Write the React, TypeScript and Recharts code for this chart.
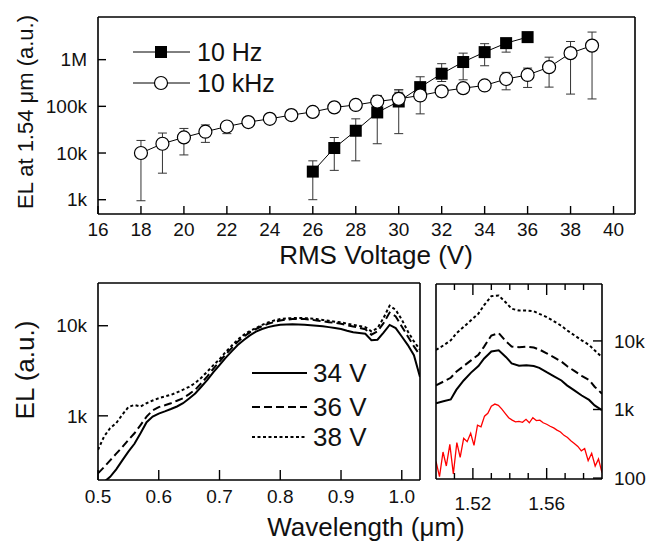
import React from "react";
import { LineChart, Line, XAxis, YAxis, ErrorBar, Legend, Label } from "recharts";

const FONT = '"Liberation Sans", Arial, Helvetica, sans-serif';
const INK = "#111";

// top panel: EL at 1.54 um vs RMS voltage
const hzVolts = [26, 27, 28, 29, 30, 31, 32, 33, 34, 35, 36];
const hzEL = [4000, 12800, 30000, 74000, 127000, 258000, 500000, 890000, 1450000, 2260000, 3040000];
const hzLow = [1000, 4250, 6800, 15800, 26000, 200000, 340000, 370000, 740000, 1450000, 2900000];
const hzHigh = [6800, 21500, 54000, 138000, 200000, 430000, 820000, 1380000, 2200000, 2770000, 3200000];

const khzVolts = [18, 19, 20, 21, 22, 23, 24, 25, 26, 27, 28, 29, 30, 31, 32, 33, 34, 35, 36, 37, 38, 39];
const khzEL = [10000, 15800, 21600, 28600, 37000, 46000, 54000, 65000, 76000, 95000, 107000, 127000, 145000, 171000, 210000, 245000, 280000, 385000, 470000, 690000, 1380000, 2000000];
const khzLow = [950, 3700, 9100, 16900, 26000, 36500, 44500, 53000, 62000, 80000, 90000, 97000, 118000, 69000, 160000, 195000, 230000, 226000, 254000, 258000, 183000, 144000];
const khzHigh = [18600, 26800, 33600, 40000, 44500, 57800, 66000, 79000, 92000, 112000, 127000, 171000, 226000, 250000, 258000, 300000, 330000, 535000, 660000, 1130000, 2450000, 3900000];

const voltTicks = [16, 18, 20, 22, 24, 26, 28, 30, 32, 34, 36, 38, 40];
const elTicks = [1000, 10000, 100000, 1000000];
const elTickText = ["1k", "10k", "100k", "1M"];

// bottom left: visible / near-IR spectra
const visWl = [0.5, 0.51, 0.52, 0.53, 0.54, 0.55, 0.56, 0.57, 0.58, 0.59, 0.6, 0.61, 0.62, 0.63, 0.64, 0.65, 0.66, 0.67, 0.68, 0.69, 0.7, 0.71, 0.72, 0.73, 0.74, 0.75, 0.76, 0.77, 0.78, 0.79, 0.8, 0.81, 0.82, 0.83, 0.84, 0.85, 0.86, 0.87, 0.88, 0.89, 0.9, 0.91, 0.92, 0.93, 0.94, 0.95, 0.96, 0.97, 0.98, 0.99, 1.0, 1.01, 1.02, 1.03];
const vis34 = [170, 185, 210, 255, 320, 400, 490, 640, 850, 980, 1060, 1120, 1190, 1270, 1380, 1560, 1770, 2100, 2500, 3050, 3650, 4400, 5200, 6100, 6950, 7800, 8600, 9200, 9650, 10000, 10250, 10350, 10400, 10350, 10250, 10150, 10000, 9850, 9650, 9450, 9200, 8800, 8450, 8300, 8150, 6900, 7000, 8400, 10200, 9400, 7600, 6100, 4700, 2700];
const vis36 = [230, 270, 320, 380, 450, 540, 640, 790, 980, 1150, 1250, 1310, 1380, 1470, 1570, 1740, 1950, 2300, 2740, 3350, 4000, 4800, 5650, 6650, 7600, 8450, 9200, 9900, 10500, 11000, 11450, 11700, 11850, 11900, 11850, 11700, 11450, 11200, 10950, 10750, 10500, 10150, 9800, 9500, 9150, 7950, 8650, 10700, 14000, 12700, 9800, 7600, 5900, 4700];
const vis38 = [420, 590, 730, 830, 1030, 1250, 1320, 1270, 1380, 1480, 1570, 1640, 1710, 1820, 1950, 2100, 2310, 2650, 3100, 3650, 4250, 5100, 6000, 7000, 7950, 8750, 9400, 10200, 10900, 11450, 11850, 12050, 12150, 12200, 12150, 12000, 11850, 11600, 11350, 11100, 10900, 10550, 10250, 9950, 9650, 8650, 9400, 12200, 16700, 15000, 11700, 8650, 6700, 5400];
const visTicks = [0.5, 0.6, 0.7, 0.8, 0.9, 1.0];
const visElTicks = [1000, 10000];

// bottom right: Er 1.54 um band
const irWl = [1.5, 1.504, 1.508, 1.511, 1.515, 1.519, 1.523, 1.526, 1.53, 1.534, 1.538, 1.541, 1.545, 1.549, 1.553, 1.556, 1.56, 1.564, 1.568, 1.571, 1.575, 1.579, 1.583, 1.586, 1.59];
const ir38 = [7400, 8600, 10200, 12900, 16000, 20000, 25000, 33000, 45000, 46000, 36000, 29500, 27700, 27700, 27000, 24800, 22300, 19300, 16600, 14300, 12100, 10200, 8750, 7300, 5800];
const ir36 = [2250, 2550, 2900, 3550, 4300, 5200, 6300, 8200, 12000, 13000, 9800, 8300, 8100, 8250, 8000, 7500, 6600, 5750, 5000, 4300, 3650, 3100, 2700, 2150, 1700];
const ir34 = [1230, 1320, 1400, 1930, 2650, 3450, 4300, 5500, 7000, 7300, 5800, 4700, 4350, 4400, 4300, 4050, 3500, 3050, 2650, 2250, 1900, 1600, 1380, 1150, 980];

const redWl = [1.5, 1.5019, 1.5038, 1.5056, 1.5075, 1.5094, 1.5113, 1.5131, 1.515, 1.5169, 1.5188, 1.5206, 1.5225, 1.5244, 1.5263, 1.5281, 1.53, 1.5319, 1.5338, 1.5356, 1.5375, 1.5394, 1.5413, 1.5431, 1.545, 1.5469, 1.5488, 1.5506, 1.5525, 1.5544, 1.5563, 1.5581, 1.56, 1.5619, 1.5638, 1.5656, 1.5675, 1.5694, 1.5713, 1.5731, 1.575, 1.5769, 1.5788, 1.5806, 1.5825, 1.5844, 1.5863, 1.5881, 1.59];
const redEL = [175, 105, 240, 150, 310, 115, 330, 200, 380, 340, 450, 300, 590, 560, 800, 880, 1120, 1200, 1150, 1020, 880, 760, 700, 660, 670, 650, 720, 640, 760, 690, 700, 640, 610, 570, 540, 500, 470, 420, 390, 350, 320, 290, 250, 270, 180, 230, 150, 190, 120];

const irMajor = [1.52, 1.56];
const irTicks = [1.51, 1.52, 1.53, 1.54, 1.55, 1.56, 1.57, 1.58];
const irElTicks = [100, 1000, 10000];

const toRows = (xs: number[], ys: number[], lo: number[], hi: number[]) =>
  xs.map((v, i) => ({ v, el: ys[i], err: [ys[i] - lo[i], hi[i] - ys[i]] }));
const hzRows = toRows(hzVolts, hzEL, hzLow, hzHigh);
const khzRows = toRows(khzVolts, khzEL, khzLow, khzHigh);
// short bars that show through the open circles
const khzInner = khzRows.filter((r) => r.v >= 23 && r.v <= 30);
const visRows = visWl.map((w, i) => ({ w, v34: vis34[i], v36: vis36[i], v38: vis38[i] }));
const irRows = irWl.map((w, i) => ({ w, v34: ir34[i], v36: ir36[i], v38: ir38[i] }));
const redRows = redWl.map((w, i) => ({ w, v30: redEL[i] }));

const axisLine = { stroke: "#000", strokeWidth: 1.6 };
const tickLine = { stroke: "#000", strokeWidth: 1.4 };
const tickFont = { fontFamily: FONT, fontSize: 19, fill: INK };

const kFmt = (v: number) => (v >= 1000000 ? `${v / 1000000}M` : v >= 1000 ? `${v / 1000}k` : `${v}`);
const isMajor = (v: number) => irMajor.some((m) => Math.abs(m - v) < 1e-6);

const title = (text: string, x: number, y: number, size: number, vertical = false) => () =>
  (
    <text
      x={x}
      y={y}
      transform={vertical ? `rotate(-90 ${x} ${y})` : undefined}
      textAnchor="middle"
      fontFamily={FONT}
      fontSize={size}
      fill={INK}
    >
      {text}
    </text>
  );

// bottom ticks with long/short marks pointing into the plot
const IrBottomTick = (p: any) => {
  const big = isMajor(p.payload.value);
  return (
    <g>
      <line x1={p.x} x2={p.x} y1={p.y} y2={p.y - (big ? 11 : 6)} stroke="#000" strokeWidth={1.4} />
      {big && (
        <text x={p.x} y={p.y + 31} textAnchor="middle" fontFamily={FONT} fontSize={19} fill={INK}>
          {p.payload.value.toFixed(2)}
        </text>
      )}
    </g>
  );
};
const IrTopTick = (p: any) => {
  const big = isMajor(p.payload.value);
  return <line x1={p.x} x2={p.x} y1={p.y} y2={p.y + (big ? 11 : 6)} stroke="#000" strokeWidth={1.4} />;
};

const Square = (p: any) => (
  <rect key={`sq-${p.index}`} x={p.cx - 6} y={p.cy - 6} width={12} height={12} fill="#000" />
);
const Ring = (p: any) => (
  <circle key={`ci-${p.index}`} cx={p.cx} cy={p.cy} r={6.5} fill="#fff" stroke="#000" strokeWidth={1.2} />
);

const TopLegend = () => (
  <svg width={170} height={70} style={{ overflow: "visible" }}>
    <line x1={5} x2={62} y1={18} y2={18} stroke="#000" />
    <rect x={27} y={12} width={12} height={12} fill="#000" />
    <text x={69} y={27} fontFamily={FONT} fontSize={25} fill={INK}>10 Hz</text>
    <line x1={5} x2={62} y1={49} y2={49} stroke="#000" />
    <circle cx={33} cy={49} r={6.5} fill="#fff" stroke="#000" strokeWidth={1.2} />
    <text x={69} y={58} fontFamily={FONT} fontSize={25} fill={INK}>10 kHz</text>
  </svg>
);

const spectraKeys = [
  { label: "34 V", dash: undefined },
  { label: "36 V", dash: "8 4" },
  { label: "38 V", dash: "3 2.5" },
];

const SpectraLegend = () => (
  <svg width={130} height={100} style={{ overflow: "visible" }}>
    {spectraKeys.map((k, i) => {
      const y = [18, 52, 82][i];
      return (
        <g key={k.label}>
          <line x1={7} x2={62} y1={y} y2={y} stroke="#000" strokeWidth={2} strokeDasharray={k.dash} />
          <text x={68} y={y + 9} fontFamily={FONT} fontSize={26} fill={INK}>{k.label}</text>
        </g>
      );
    })}
  </svg>
);

export default function App() {
  return (
    <div style={{ position: "absolute", left: 0, top: 0, width: 657, height: 548, background: "#fff" }}>
      <div style={{ position: "absolute", left: 0, top: 0 }}>
        <LineChart width={657} height={270} margin={{ top: 0, right: 0, bottom: 0, left: 0 }}>
          <XAxis xAxisId="b" type="number" dataKey="v" domain={[16, 41]} ticks={voltTicks} interval={0}
            allowDataOverflow axisLine={axisLine} tickLine={tickLine} tick={tickFont}
            tickSize={-8} tickMargin={17} height={56}>
            <Label content={title("RMS Voltage (V)", 376, 264, 26)} />
          </XAxis>
          <XAxis xAxisId="t" orientation="top" type="number" dataKey="v" domain={[16, 41]} ticks={voltTicks}
            interval={0} allowDataOverflow axisLine={axisLine} tickLine={tickLine} tick={false}
            tickSize={-8} height={17} />
          <YAxis yAxisId="l" type="number" scale="log" domain={[494, 8200000]} ticks={elTicks} interval={0}
            allowDataOverflow axisLine={axisLine} tickLine={tickLine} tick={tickFont}
            tickFormatter={(v: number) => elTickText[elTicks.indexOf(v)] ?? kFmt(v)}
            tickSize={-8} tickMargin={19} width={98}>
            <Label content={title("EL at 1.54 \u03bcm (a.u.)", 33, 112, 22, true)} />
          </YAxis>
          <YAxis yAxisId="r" orientation="right" type="number" scale="log" domain={[494, 8200000]} ticks={elTicks}
            interval={0} allowDataOverflow axisLine={axisLine} tickLine={tickLine} tick={false}
            tickSize={-8} width={22} />
          <Line xAxisId="t" yAxisId="r" data={hzRows} dataKey="el" stroke="none" dot={false}
            legendType="none" isAnimationActive={false} />
          <Line xAxisId="b" yAxisId="l" data={hzRows} dataKey="el" name="10 Hz" stroke="#000" strokeWidth={1}
            dot={Square} isAnimationActive={false}>
            <ErrorBar dataKey="err" width={4.5} stroke="#333" strokeWidth={1} direction="y" />
          </Line>
          <Line xAxisId="b" yAxisId="l" data={khzRows} dataKey="el" name="10 kHz" stroke="#000" strokeWidth={1}
            dot={Ring} isAnimationActive={false}>
            <ErrorBar dataKey="err" width={4.5} stroke="#333" strokeWidth={1} direction="y" />
          </Line>
          <Line xAxisId="b" yAxisId="l" data={khzInner} dataKey="el" stroke="none" dot={false}
            legendType="none" isAnimationActive={false}>
            <ErrorBar dataKey="err" width={4.5} stroke="#333" strokeWidth={1} direction="y" />
          </Line>
          <Legend layout="vertical" align="center" verticalAlign="middle"
            wrapperStyle={{ left: 128, top: 34, width: 170, height: 70 }} content={() => <TopLegend />} />
        </LineChart>
      </div>

      <div style={{ position: "absolute", left: 420, top: 270 }}>
        <LineChart width={237} height={278} margin={{ top: 0, right: 0, bottom: 0, left: 0 }}>
          <XAxis xAxisId="b" type="number" dataKey="w" domain={[1.5, 1.59]} ticks={irTicks} interval={0}
            allowDataOverflow axisLine={axisLine} tickLine={false} tick={IrBottomTick}
            tickSize={0} tickMargin={0} height={69} />
          <XAxis xAxisId="t" orientation="top" type="number" dataKey="w" domain={[1.5, 1.59]} ticks={irTicks}
            interval={0} allowDataOverflow axisLine={axisLine} tickLine={false} tick={IrTopTick}
            tickSize={0} tickMargin={0} height={14} />
          <YAxis yAxisId="l" type="number" scale="log" domain={[97, 67600]} ticks={irElTicks} interval={0}
            allowDataOverflow axisLine={axisLine} tickLine={tickLine} tick={false} tickSize={-9} width={16} />
          <YAxis yAxisId="r" orientation="right" type="number" scale="log" domain={[97, 67600]} ticks={irElTicks}
            interval={0} allowDataOverflow axisLine={axisLine} tickLine={tickLine} tick={tickFont}
            tickFormatter={kFmt} tickSize={-9} tickMargin={21} width={55} />
          <Line xAxisId="t" yAxisId="l" data={irRows} dataKey="v34" stroke="none" dot={false}
            legendType="none" isAnimationActive={false} />
          <Line xAxisId="b" yAxisId="r" data={redRows} dataKey="v30" stroke="#ff0000" strokeWidth={1.3}
            dot={false} isAnimationActive={false} />
          <Line xAxisId="b" yAxisId="r" data={irRows} dataKey="v34" stroke="#000" strokeWidth={2}
            dot={false} isAnimationActive={false} />
          <Line xAxisId="b" yAxisId="r" data={irRows} dataKey="v36" stroke="#000" strokeWidth={2}
            strokeDasharray="8 4" dot={false} isAnimationActive={false} />
          <Line xAxisId="b" yAxisId="r" data={irRows} dataKey="v38" stroke="#000" strokeWidth={2}
            strokeDasharray="3 2.5" dot={false} isAnimationActive={false} />
        </LineChart>
      </div>

      <div style={{ position: "absolute", left: 0, top: 270 }}>
        <LineChart width={657} height={278} margin={{ top: 0, right: 227, bottom: 0, left: 0 }}>
          <XAxis xAxisId="b" type="number" dataKey="w" domain={[0.5, 1.03]} ticks={visTicks} interval={0}
            allowDataOverflow axisLine={axisLine} tickLine={tickLine} tick={tickFont}
            tickFormatter={(v: number) => v.toFixed(1)} tickSize={-10} tickMargin={20} height={68}>
            <Label content={title("Wavelength (\u03bcm)", 366, 266, 26)} />
          </XAxis>
          <XAxis xAxisId="t" orientation="top" type="number" dataKey="w" domain={[0.5, 1.03]} ticks={visTicks}
            interval={0} allowDataOverflow axisLine={axisLine} tickLine={tickLine} tick={false}
            tickSize={-10} height={13} />
          <YAxis yAxisId="l" type="number" scale="log" domain={[194, 29800]} ticks={visElTicks} interval={0}
            allowDataOverflow axisLine={axisLine} tickLine={tickLine} tick={tickFont} tickFormatter={kFmt}
            tickSize={-10} tickMargin={21} width={98}>
            <Label content={title("EL (a.u.)", 34, 100, 26, true)} />
          </YAxis>
          <YAxis yAxisId="r" orientation="right" type="number" scale="log" domain={[194, 29800]} ticks={visElTicks}
            interval={0} allowDataOverflow axisLine={axisLine} tickLine={tickLine} tick={false}
            tickSize={-10} width={10} />
          <Line xAxisId="t" yAxisId="r" data={visRows} dataKey="v34" stroke="none" dot={false}
            legendType="none" isAnimationActive={false} />
          <Line xAxisId="b" yAxisId="l" data={visRows} dataKey="v34" name="34 V" stroke="#000" strokeWidth={2}
            dot={false} isAnimationActive={false} />
          <Line xAxisId="b" yAxisId="l" data={visRows} dataKey="v36" name="36 V" stroke="#000" strokeWidth={2}
            strokeDasharray="8 4" dot={false} isAnimationActive={false} />
          <Line xAxisId="b" yAxisId="l" data={visRows} dataKey="v38" name="38 V" stroke="#000" strokeWidth={2}
            strokeDasharray="3 2.5" dot={false} isAnimationActive={false} />
          <Legend layout="vertical" align="center" verticalAlign="middle"
            wrapperStyle={{ left: 245, top: 85, width: 130, height: 100 }} content={() => <SpectraLegend />} />
        </LineChart>
      </div>
    </div>
  );
}
